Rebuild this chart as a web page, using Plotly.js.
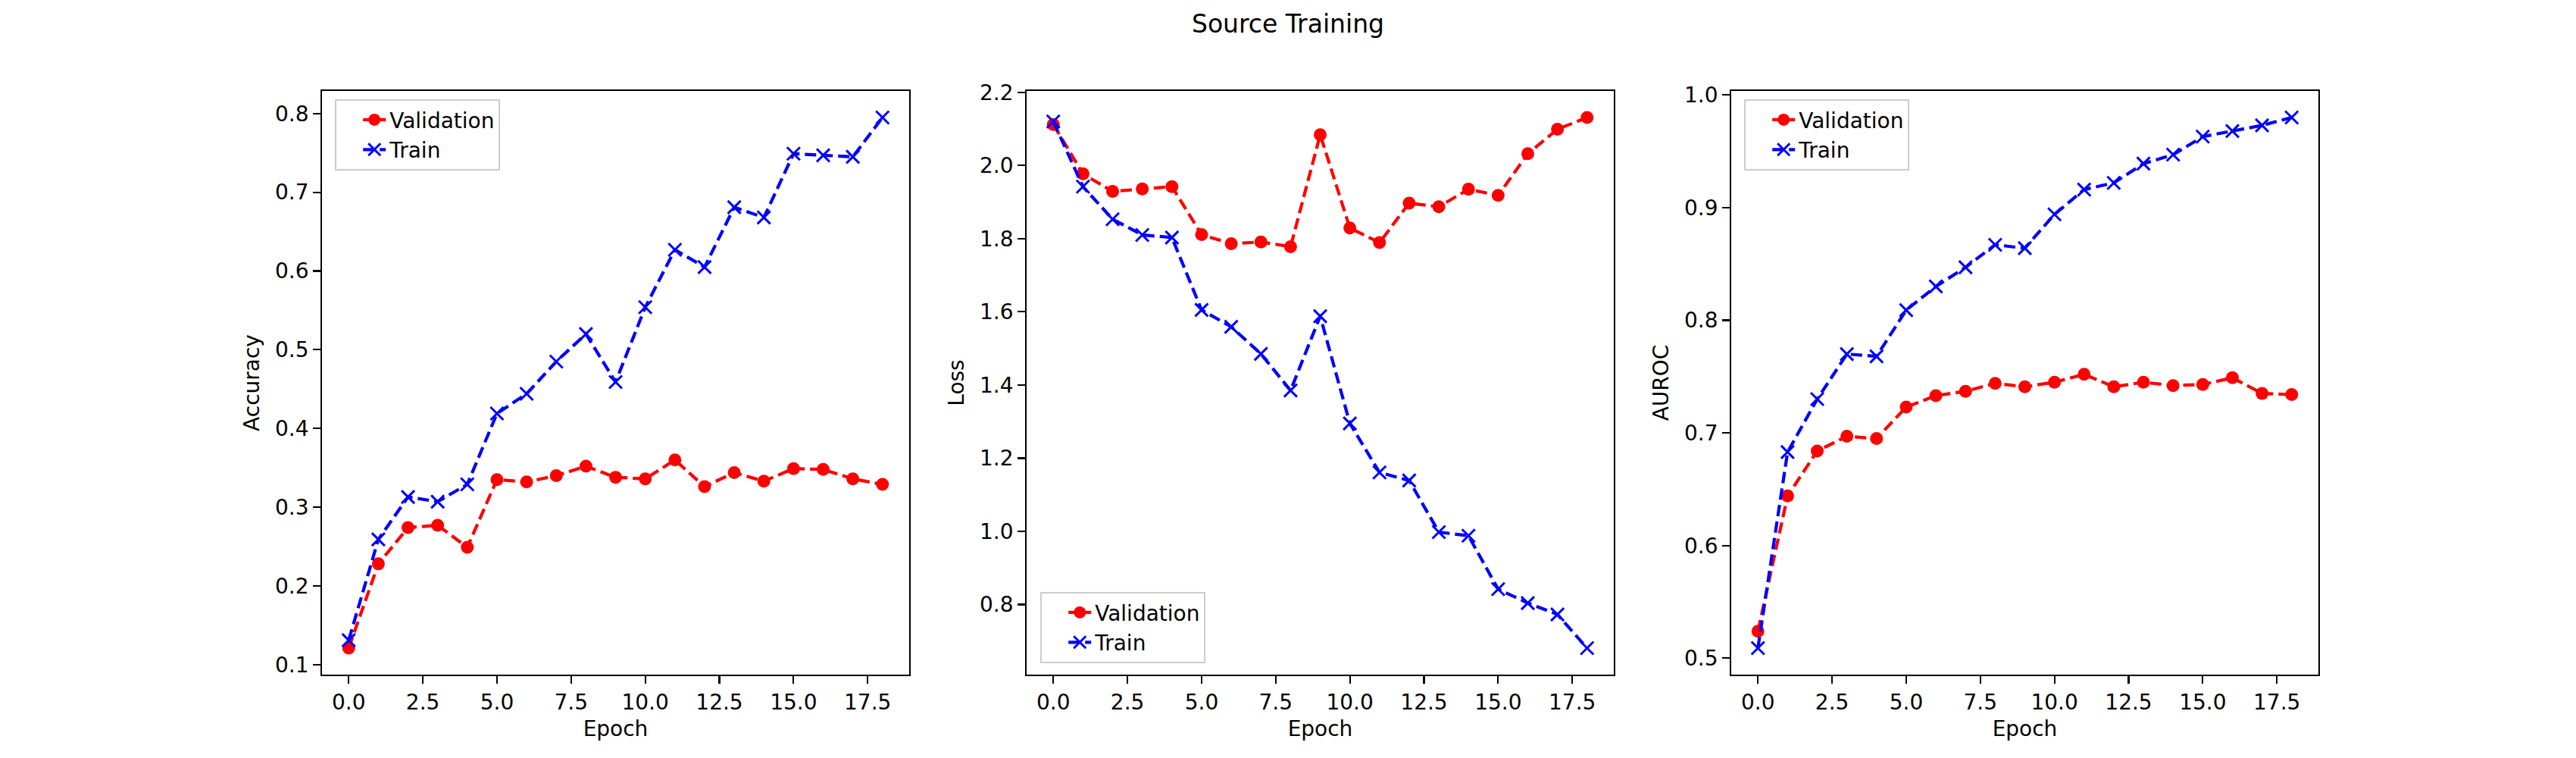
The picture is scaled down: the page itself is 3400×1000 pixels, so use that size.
<!DOCTYPE html>
<html>
<head>
<meta charset="utf-8">
<script src="https://cdn.plot.ly/plotly-3.0.1.min.js"></script>
<style>
  html, body { margin: 0; padding: 0; background: #ffffff; }
  #chart { width: 3400px; height: 1000px; }
</style>
</head>
<body>
<div id="chart"></div>
<script>
// Per-epoch training history
const epochs = [0, 1, 2, 3, 4, 5, 6, 7, 8, 9, 10, 11, 12, 13, 14, 15, 16, 17, 18];

const accValidation = [0.121, 0.228, 0.274, 0.277, 0.249, 0.335, 0.332, 0.340, 0.352, 0.338,
                       0.336, 0.360, 0.326, 0.344, 0.333, 0.349, 0.348, 0.336, 0.329];
const accTrain = [0.131, 0.259, 0.313, 0.307, 0.329, 0.419, 0.444, 0.485, 0.520, 0.459,
                  0.554, 0.627, 0.605, 0.681, 0.668, 0.749, 0.747, 0.745, 0.795];

const lossValidation = [2.112, 1.977, 1.929, 1.936, 1.942, 1.811, 1.786, 1.791, 1.778, 2.084,
                        1.829, 1.789, 1.897, 1.887, 1.935, 1.918, 2.032, 2.099, 2.131];
const lossTrain = [2.120, 1.942, 1.853, 1.810, 1.803, 1.605, 1.559, 1.485, 1.385, 1.588,
                   1.295, 1.161, 1.139, 0.998, 0.988, 0.842, 0.804, 0.773, 0.681];

const aurocValidation = [0.524, 0.644, 0.684, 0.697, 0.695, 0.723, 0.733, 0.737, 0.744, 0.741,
                         0.745, 0.752, 0.741, 0.745, 0.742, 0.743, 0.749, 0.735, 0.734];
const aurocTrain = [0.509, 0.683, 0.730, 0.770, 0.768, 0.809, 0.830, 0.847, 0.867, 0.864,
                    0.894, 0.916, 0.922, 0.939, 0.947, 0.963, 0.968, 0.973, 0.980];

const seriesNames = ['Validation', 'Train'];
const panelTitles = ['Accuracy', 'Loss', 'AUROC'];
const figureTitle = 'Source Training';

const FONT = 'DejaVu Sans';
const RED = '#ff0000';
const BLUE = '#0000ff';

// Axis range padded by 5% of the data span on each side
function paddedRange(values) {
  const lo = Math.min(...values), hi = Math.max(...values);
  const pad = (hi - lo) * 0.05;
  return [lo - pad, hi + pad];
}

function validationTrace(y, xa, ya, legendId) {
  return {
    x: epochs, y: y, xaxis: xa, yaxis: ya, legend: legendId,
    name: seriesNames[0], type: 'scatter', mode: 'lines+markers',
    line: { color: RED, width: 4.2, dash: '15px,7px' },
    marker: { symbol: 'circle', size: 17, color: RED }
  };
}

function trainTrace(y, xa, ya, legendId) {
  return {
    x: epochs, y: y, xaxis: xa, yaxis: ya, legend: legendId,
    name: seriesNames[1], type: 'scatter', mode: 'lines+markers',
    line: { color: BLUE, width: 4.2, dash: '15px,7px' },
    marker: { symbol: 'x-thin', size: 17, color: BLUE, line: { color: BLUE, width: 3 } }
  };
}

const traces = [
  validationTrace(accValidation, 'x', 'y', 'legend'),
  trainTrace(accTrain, 'x', 'y', 'legend'),
  validationTrace(lossValidation, 'x2', 'y2', 'legend2'),
  trainTrace(lossTrain, 'x2', 'y2', 'legend2'),
  validationTrace(aurocValidation, 'x3', 'y3', 'legend3'),
  trainTrace(aurocTrain, 'x3', 'y3', 'legend3')
];

const tickFont = { family: FONT, size: 28, color: '#000000' };
const labelFont = { family: FONT, size: 28, color: '#000000' };

function baseAxis(extra) {
  return Object.assign({
    showline: true, linecolor: '#000000', linewidth: 2.2, mirror: true,
    ticks: 'outside', ticklen: 9.7, tickwidth: 2.2, tickcolor: '#000000',
    showgrid: false, zeroline: false, automargin: false,
    tickfont: tickFont
  }, extra);
}

function xAxis(domain, anchor) {
  return baseAxis({
    domain: domain, anchor: anchor,
    range: paddedRange(epochs), tick0: 0, dtick: 2.5, tickformat: '.1f',
    title: { text: 'Epoch', font: labelFont, standoff: 10 }
  });
}

function yAxis(values, dtick, label, anchor) {
  return baseAxis({
    domain: [0.11, 0.88], anchor: anchor,
    range: paddedRange(values), tick0: 0, dtick: dtick, tickformat: '.1f',
    title: { text: label, font: labelFont, standoff: 12 }
  });
}

function legendBox(x, y, yanchor) {
  return {
    x: x, y: y, xanchor: 'left', yanchor: yanchor, xref: 'paper', yref: 'paper',
    bgcolor: 'rgba(255,255,255,0.8)', bordercolor: '#cccccc', borderwidth: 2.2,
    font: { family: FONT, size: 28, color: '#000000' },
    itemsizing: 'trace', tracegroupgap: 0, indentation: 30
  };
}

const layout = {
  width: 3400, height: 1000,
  margin: { l: 0, r: 0, t: 0, b: 0 },
  paper_bgcolor: '#ffffff', plot_bgcolor: '#ffffff',
  showlegend: true,
  title: {
    text: figureTitle, x: 0.5, xanchor: 'center', xref: 'paper',
    y: 0.98, yanchor: 'top', yref: 'container',
    font: { family: FONT, size: 33, color: '#000000' }
  },
  xaxis: xAxis([0.125, 1200 / 3400], 'y'),
  yaxis: yAxis(accValidation.concat(accTrain), 0.1, panelTitles[0], 'x'),
  xaxis2: xAxis([1355 / 3400, 2130 / 3400], 'y2'),
  yaxis2: yAxis(lossValidation.concat(lossTrain), 0.2, panelTitles[1], 'x2'),
  xaxis3: xAxis([2285 / 3400, 0.9], 'y3'),
  yaxis3: yAxis(aurocValidation.concat(aurocTrain), 0.1, panelTitles[2], 'x3'),
  legend: legendBox(442 / 3400, 1 - 131 / 1000, 'top'),
  legend2: legendBox(1373 / 3400, 1 - 875 / 1000, 'bottom'),
  legend3: legendBox(2302 / 3400, 1 - 131 / 1000, 'top')
};

Plotly.newPlot('chart', traces, layout, { staticPlot: true, displayModeBar: false });
</script>
</body>
</html>
